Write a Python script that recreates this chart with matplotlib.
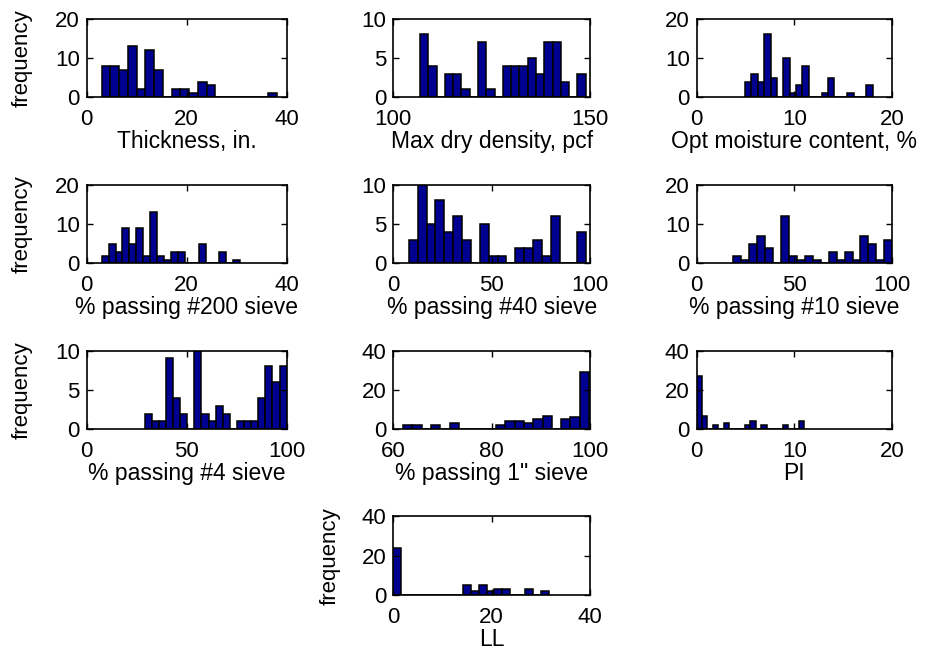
import matplotlib
matplotlib.use('Agg')
import matplotlib.pyplot as plt
import numpy as np

plt.rcParams['font.family'] = ['Liberation Sans', 'DejaVu Sans']

######## DATA (20-bin histograms: data range + bin counts)

thick_range = [3.0, 38.0]
thick_counts = [8, 8, 7, 13, 2, 12, 7, 0, 2, 2, 1, 4, 3, 0, 0, 0, 0, 0, 0, 1]

mdd_range = [106.8, 148.9]
mdd_counts = [8, 4, 0, 3, 3, 1, 0, 7, 1, 0, 4, 4, 4, 5, 3, 7, 7, 2, 0, 3]

omc_range = [4.95, 18.0]
omc_counts = [4, 6, 4, 16, 5, 0, 10, 1, 3, 8, 0, 0, 1, 5, 0, 0, 1, 0, 0, 3]

p200_range = [3.0, 30.7]
p200_counts = [2, 5, 3, 9, 5, 9, 2, 13, 2, 1, 3, 3, 0, 0, 5, 0, 0, 3, 0, 1]

p40_range = [7.9, 98.1]
p40_counts = [3, 10, 5, 8, 4, 6, 3, 0, 5, 1, 1, 0, 2, 2, 3, 1, 6, 0, 0, 4]

p10_range = [18.8, 100.0]
p10_counts = [2, 1, 5, 7, 4, 0, 12, 2, 1, 2, 1, 0, 3, 1, 3, 1, 7, 5, 1, 6]

p4_range = [29.0, 100.0]
p4_counts = [2, 1, 1, 9, 4, 2, 0, 10, 2, 1, 3, 2, 0, 1, 1, 1, 4, 8, 6, 8]

p1in_range = [62.0, 99.8]
p1in_counts = [2, 2, 0, 2, 0, 3, 0, 0, 0, 0, 2, 4, 4, 3, 5, 7, 0, 5, 6, 29]

pi_range = [0.0, 11.0]
pi_counts = [27, 7, 0, 2, 0, 3, 0, 0, 0, 2, 4, 0, 2, 0, 0, 0, 2, 0, 0, 4]

ll_range = [0.0, 31.6]
ll_counts = [24, 0, 0, 0, 0, 0, 0, 0, 0, 5, 2, 5, 2, 3, 3, 0, 0, 3, 0, 2]

# label, range, counts, xlim, xticks, ylim, yticks, show ylabel
panels = [
  ('Thickness, in.', thick_range, thick_counts, (0, 40), [0, 20, 40], (0, 20), [0, 10, 20], True),
  ('Max dry density, pcf', mdd_range, mdd_counts, (100, 150), [100, 150], (0, 10), [0, 5, 10], False),
  ('Opt moisture content, %', omc_range, omc_counts, (0, 20), [0, 10, 20], (0, 20), [0, 10, 20], False),
  ('% passing #200 sieve', p200_range, p200_counts, (0, 40), [0, 20, 40], (0, 20), [0, 10, 20], True),
  ('% passing #40 sieve', p40_range, p40_counts, (0, 100), [0, 50, 100], (0, 10), [0, 5, 10], False),
  ('% passing #10 sieve', p10_range, p10_counts, (0, 100), [0, 50, 100], (0, 20), [0, 10, 20], False),
  ('% passing #4 sieve', p4_range, p4_counts, (0, 100), [0, 50, 100], (0, 10), [0, 5, 10], True),
  ('% passing 1" sieve', p1in_range, p1in_counts, (60, 100), [60, 80, 100], (0, 40), [0, 20, 40], False),
  ('PI', pi_range, pi_counts, (0, 20), [0, 10, 20], (0, 40), [0, 20, 40], False),
  ('LL', ll_range, ll_counts, (0, 40), [0, 20, 40], (0, 40), [0, 20, 40], True),
]

######## LAYOUT (MATLAB subplot(4,3,k) look)

col_left = [0.093, 0.422, 0.7475]
col_width = [0.2146, 0.211, 0.2098]
row_bottom = [0.853, 0.602, 0.3515, 0.101]
row_height = 0.119
slots = [(0, 0), (0, 1), (0, 2), (1, 0), (1, 1), (1, 2), (2, 0), (2, 1), (2, 2), (3, 1)]

fig = plt.figure(figsize=(9.32, 6.62), dpi=100)

for k in range(len(panels)):
  label, rng, counts, xl, xt, yl, yt, showy = panels[k]
  r, c = slots[k]
  ax = fig.add_axes([col_left[c], row_bottom[r], col_width[c], row_height])

  edges = np.linspace(rng[0], rng[1], len(counts) + 1)      # 20 equal bins over data range
  centers = 0.5 * (edges[:-1] + edges[1:])
  ax.bar(centers, counts, width=edges[1] - edges[0], color='#000090',
         edgecolor='black', linewidth=1.1)

  ax.set_xlim(xl)
  ax.set_ylim(yl)
  ax.set_xticks(xt)
  ax.set_yticks(yt)
  ax.tick_params(direction='in', top=True, right=True, length=4, width=1,
                 labelsize=16)
  ax.tick_params(axis='x', pad=8.5)
  ax.tick_params(axis='y', pad=5)
  for s in ax.spines.values():
    s.set_linewidth(1.2)

  ax.set_xlabel(label, fontsize=16.5, labelpad=0)
  if showy:
    ax.set_ylabel('frequency', fontsize=16)
    ax.yaxis.set_label_coords(-0.27, 0.5)

plt.savefig('out.png', dpi=100)
